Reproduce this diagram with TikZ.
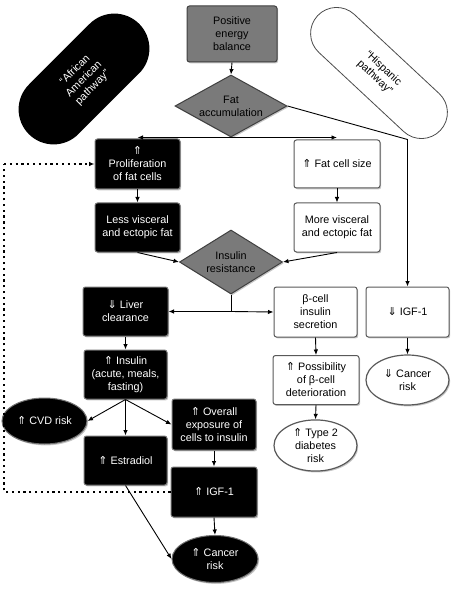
\documentclass[tikz,border=0pt]{standalone}
\usepackage{fontspec}
\setmainfont{Liberation Sans}
\newfontfamily\symfont{DejaVu Sans}
\usetikzlibrary{shapes.geometric,shapes.misc,arrows.meta,shadows}
\newcommand\UArr{{\symfont\fontsize{11}{13}\selectfont ⇑}}
\newcommand\DArr{{\symfont\fontsize{11}{13}\selectfont ⇓}}
\begin{document}
\begin{tikzpicture}[x=1pt,y=-1pt,
  shad/.style={drop shadow={shadow xshift=1.2pt,shadow yshift=-1.4pt,opacity=0.45}},
  box/.style={rectangle, rounded corners=2.5pt, align=center, inner sep=1pt,
    font=\fontsize{10.8}{13}\selectfont, line width=1pt, shad},
  blk/.style={box, fill=black, draw=black!55, text=white},
  wht/.style={box, fill=white, draw=black!65},
  gry/.style={box, fill=black!52, draw=black!75},
  eblk/.style={blk, ellipse},
  ewht/.style={wht, ellipse, line width=1.2pt},
  dia/.style={diamond, aspect=1.8, inner sep=0pt, fill=black!52, draw=black!75,
    line width=1pt, align=center, font=\fontsize{10.8}{13}\selectfont, shad},
  pill/.style={rounded rectangle, align=center, inner sep=1pt,
    font=\fontsize{10.8}{12.5}\selectfont},
  arr/.style={-{Latex[length=5.5pt,width=4.5pt]}, line width=0.9pt},
  dotline/.style={line width=1.1pt, dash pattern=on 2.2pt off 3.6pt},
]
\useasboundingbox (0,0) rectangle (450,593);

% pathway labels
\node[pill, fill=black, text=white, rotate=45, minimum width=158, minimum height=70] (aap) at (84,79) {“African\\American\\pathway”};
\node[pill, fill=white, draw=black!70, line width=0.8pt, rotate=-43, minimum width=170, minimum height=52] (hp) at (379,73) {“Hispanic\\pathway”};

% nodes
\node[gry, minimum width=90, minimum height=56] (peb) at (232,34) {Positive\\energy\\balance};
\node[dia, minimum width=112, minimum height=62] (fat) at (231,106) {Fat\\accumulation};
\node[blk, minimum width=85, minimum height=50] (prolif) at (137.5,164) {\UArr\\Proliferation\\of fat cells};
\node[wht, minimum width=86, minimum height=48] (size) at (337,164) {\UArr\ Fat cell size};
\node[blk, minimum width=85, minimum height=49] (less) at (137.5,227.5) {Less visceral\\and ectopic fat};
\node[wht, minimum width=86, minimum height=49] (more) at (337,227.5) {More visceral\\and ectopic fat};
\node[dia, minimum width=103, minimum height=64] (ir) at (231,262) {Insulin\\resistance};
\node[blk, minimum width=85, minimum height=49] (liver) at (125.5,311.5) {\DArr\ Liver\\clearance};
\node[wht, minimum width=83, minimum height=50] (beta) at (315.5,312) {β-cell\\insulin\\secretion};
\node[wht, minimum width=83, minimum height=50] (igfw) at (407.5,312) {\DArr\ IGF-1};
\node[blk, minimum width=83, minimum height=49] (insulin) at (125.5,374.5) {\UArr\ Insulin\\(acute, meals,\\fasting)};
\node[wht, minimum width=86, minimum height=49] (poss) at (316,380) {\UArr\ Possibility\\of β-cell\\deterioration};
\node[ewht, minimum width=83, minimum height=50] (cancerw) at (407.5,380) {\DArr\ Cancer\\risk};
\node[eblk, minimum width=85, minimum height=46] (cvd) at (44.5,421) {\UArr\ CVD risk};
\node[blk, minimum width=84, minimum height=51] (overall) at (214,424.5) {\UArr\ Overall\\exposure of\\cells to insulin};
\node[ewht, minimum width=83, minimum height=47] (t2d) at (315.5,445.5) {\UArr\ Type 2\\diabetes\\risk};
\node[blk, minimum width=83, minimum height=49] (estr) at (125.5,460.5) {\UArr\ Estradiol};
\node[blk, minimum width=86, minimum height=50] (igfb) at (214,492) {\UArr\ IGF-1};
\node[eblk, minimum width=86, minimum height=47] (cancerb) at (215,559) {\UArr\ Cancer\\risk};

\coordinate (dotc) at (4,164);

% connectors
\draw[arr] (peb.south) -- (fat.north);
\draw[arr] (fat.south) -- (fat.south -| prolif.north);
\draw[arr] (fat.south) -- (fat.south -| size.north);
\draw[arr] (fat.east) -- (igfw.north |- size.north) -- (igfw.north);
\draw[arr] (prolif.south) -- (less.north);
\draw[arr] (size.south) -- (more.north);
\draw[arr] (less.south) -- (ir.west);
\draw[arr] (more.south) -- (ir.east);
\draw[line width=0.9pt] (ir.south) -- (ir.south |- liver.east);
\draw[arr] (ir.south |- liver.east) -- (liver.east);
\draw[arr] (ir.south |- liver.east) -- (beta.west);
\draw[arr] (liver.south) -- (insulin.north);
\draw[arr] (beta.south) -- (poss.north);
\draw[arr] (igfw.south) -- (cancerw.north);
\draw[arr] (poss.south) -- (t2d.north);
\draw[arr] (insulin.south) -- (cvd.east);
\draw[arr] (insulin.south) -- (estr.north);
\draw[arr] (insulin.south) -- (overall.west);
\draw[arr] (overall.south) -- (igfb.north);
\draw[arr] (igfb.south) -- (cancerb.north);
\draw[arr] (estr.south) -- (cancerb.west);
\draw[dotline] (igfb.west) -| (dotc);
\draw[dotline, -{Latex[length=5.5pt,width=4.5pt]}] (dotc) -- (prolif.west);
\end{tikzpicture}
\end{document}
